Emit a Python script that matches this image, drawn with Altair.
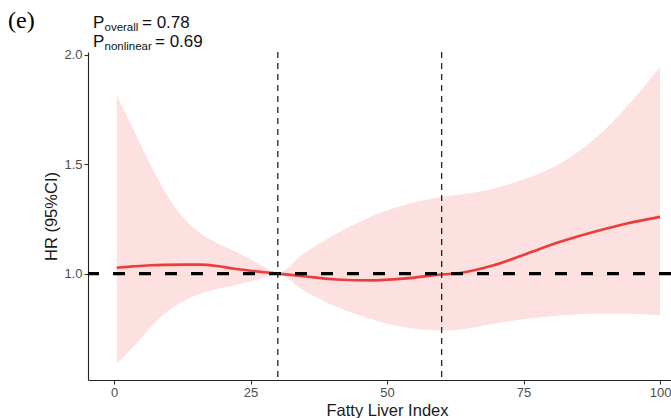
import altair as alt
import pandas as pd

# Fatty Liver Index values and restricted cubic spline estimates
fli = [0.5, 3.5, 6.6, 9.65, 12.7, 15.75, 18.8, 21.8, 25, 28, 30, 34.7, 40.8, 46.9,
       53, 60, 63.4, 69.5, 75.6, 81.7, 87.8, 93.9, 100]
hr = [1.027, 1.033, 1.038, 1.040, 1.041, 1.041, 1.035, 1.023, 1.013, 1.005, 1.000,
      0.988, 0.973, 0.969, 0.977, 0.996, 1.003, 1.038, 1.091, 1.145, 1.190, 1.229, 1.259]
upper = [1.815, 1.660, 1.500, 1.360, 1.255, 1.185, 1.140, 1.107, 1.065, 1.024, 1.003,
         1.091, 1.183, 1.259, 1.312, 1.350, 1.360, 1.389, 1.435, 1.503, 1.610, 1.762, 1.945]
lower = [0.590, 0.664, 0.752, 0.826, 0.874, 0.908, 0.930, 0.946, 0.965, 0.985, 0.997,
         0.924, 0.847, 0.794, 0.756, 0.741, 0.745, 0.771, 0.794, 0.809, 0.817, 0.817, 0.809]

knots = [30, 60]
ref_hr = [1.0]
x_ticks = [0, 25, 50, 75, 100]
y_ticks = [1.0, 1.5, 2.0]

df = pd.DataFrame({"x": fli, "hr": hr, "lo": lower, "hi": upper})
df_knots = pd.DataFrame({"k": knots})
df_ref = pd.DataFrame({"r": ref_hr})

FONT = "Liberation Sans"

xscale = alt.Scale(domain=[-4.76, 102.0], nice=False, zero=False)
yscale = alt.Scale(domain=[0.514, 2.012], nice=False, zero=False)

xaxis = alt.Axis(values=x_ticks, title="Fatty Liver Index", grid=False,
                 labelFontSize=13, labelColor="#4d4d4d", labelFont=FONT,
                 tickColor="#333333", tickSize=4, tickWidth=1.1,
                 domainColor="#222222", domainWidth=1.1, labelPadding=2,
                 titleFont=FONT, titleFontSize=16.5, titleFontWeight="normal",
                 titleColor="#1a1a1a", titlePadding=3, titleX=299)
yaxis = alt.Axis(values=y_ticks, format=".1f", title="HR (95%CI)", grid=False,
                 labelFontSize=13, labelColor="#4d4d4d", labelFont=FONT,
                 tickColor="#333333", tickSize=4, tickWidth=1.1,
                 domainColor="#222222", domainWidth=1.1, labelPadding=2,
                 titleFont=FONT, titleFontSize=16.5, titleFontWeight="normal",
                 titleColor="#1a1a1a", titlePadding=4)

band = alt.Chart(df).mark_area(color="#fde0e0", interpolate="monotone").encode(
    x=alt.X("x:Q", scale=xscale, axis=xaxis),
    y=alt.Y("lo:Q", scale=yscale, axis=yaxis),
    y2="hi:Q",
)

line = alt.Chart(df).mark_line(color="#ee3b3b", strokeWidth=2.6, interpolate="monotone").encode(
    x=alt.X("x:Q", scale=xscale),
    y=alt.Y("hr:Q", scale=yscale),
)

hline = alt.Chart(df_ref).mark_rule(color="#000000", strokeWidth=3.2, strokeDash=[12, 14]).encode(
    y=alt.Y("r:Q", scale=yscale),
)

vlines = alt.Chart(df_knots).mark_rule(color="#222222", strokeWidth=1.3, strokeDash=[6, 5]).encode(
    x=alt.X("k:Q", scale=xscale),
)

def txt(s, x, y, size, font=FONT, color="#111111"):
    return alt.Chart(df_ref).mark_text(text=s, align="left", baseline="alphabetic",
                                       font=font, fontSize=size, color=color).encode(
        x=alt.value(x), y=alt.value(y))

label_e = txt("(e)", -80, -24, 24, font="Liberation Serif", color="#000000")
p1 = txt("P", 5, -24, 17)
p1s = txt("overall", 16.5, -21, 11.5)
p1v = txt("= 0.78", 54, -24, 17)
p2 = txt("P", 5, -5, 17)
p2s = txt("nonlinear", 16.5, -2, 11.5)
p2v = txt("= 0.69", 67, -5, 17)

chart = alt.layer(band, line, hline, vlines, label_e, p1, p1s, p1v, p2, p2s, p2v).properties(
    width=583, height=328,
    autosize=alt.AutoSizeParams(type="none"),
    padding={"left": 88, "top": 52, "right": 0, "bottom": 38},
    background="white",
).configure_view(stroke=None)

chart.save("out.html", embed_options={"renderer": "svg", "actions": False})
